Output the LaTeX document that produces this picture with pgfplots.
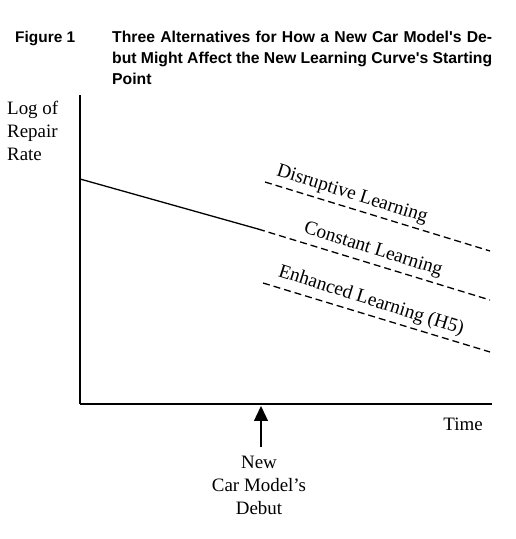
\documentclass[border=0pt]{standalone}
\usepackage{pgfplots}
\pgfplotsset{compat=1.18}
\usepackage{fontspec}
\setmainfont{Liberation Serif}
\newfontfamily\titlefont{Liberation Sans}
\usetikzlibrary{arrows.meta}
\begin{document}
\begin{tikzpicture}
\path[use as bounding box] (0,0) rectangle (516bp,539bp);
\node[anchor=base west, inner sep=0, font=\titlefont\bfseries\fontsize{15.5}{21}\selectfont] at (15bp,496bp) {Figure 1};
\node[anchor=base west, inner sep=0, font=\titlefont\bfseries\fontsize{15.8}{21}\selectfont] at (112bp,496bp)
  {\parbox[t]{380bp}{Three Alternatives for How a New Car Model's De-\linebreak but Might Affect the New Learning Curve's Starting\linebreak Point}};
\begin{axis}[
  at={(80bp,135bp)}, anchor=south west, scale only axis,
  width=412bp, height=309bp,
  xmin=80, xmax=492, ymin=0, ymax=309,
  axis x line=bottom, axis y line=left,
  axis line style={-, line width=1.7bp},
  xtick=\empty, ytick=\empty, clip=false
]
\addplot[black, no marks, line width=1.3bp] coordinates {(80,225) (258,175)};
\addplot[black, no marks, line width=1.3bp, dash pattern=on 7bp off 4bp] coordinates {(258,175) (490,104)};
\addplot[black, no marks, line width=1.3bp, dash pattern=on 7bp off 4bp] coordinates {(265,222) (490,153)};
\addplot[black, no marks, line width=1.3bp, dash pattern=on 7bp off 4bp] coordinates {(263,121) (490,52)};
\node[rotate=-17.5, font=\fontsize{19.5}{23}\selectfont] at (axis cs:352,209) {Disruptive Learning};
\node[rotate=-17.5, font=\fontsize{19.5}{23}\selectfont] at (axis cs:373,154) {Constant Learning};
\node[rotate=-17.5, font=\fontsize{19.5}{23}\selectfont] at (axis cs:371,103) {Enhanced Learning (H5)};
\node[font=\fontsize{19}{23}\selectfont] at (axis cs:463,-20) {Time};
\node[align=center, font=\fontsize{19}{23}\selectfont] at (axis cs:259,-81) {New\\Car Model's\\Debut};
\node[anchor=west, align=left, font=\fontsize{19}{23}\selectfont, inner sep=0] at (axis cs:7,273) {Log of\\Repair\\Rate};
\draw[-{Triangle[length=15bp,width=14bp]}, line width=1.3bp] (axis cs:261,-43) -- (axis cs:261,-2);
\end{axis}
\end{tikzpicture}
\end{document}
